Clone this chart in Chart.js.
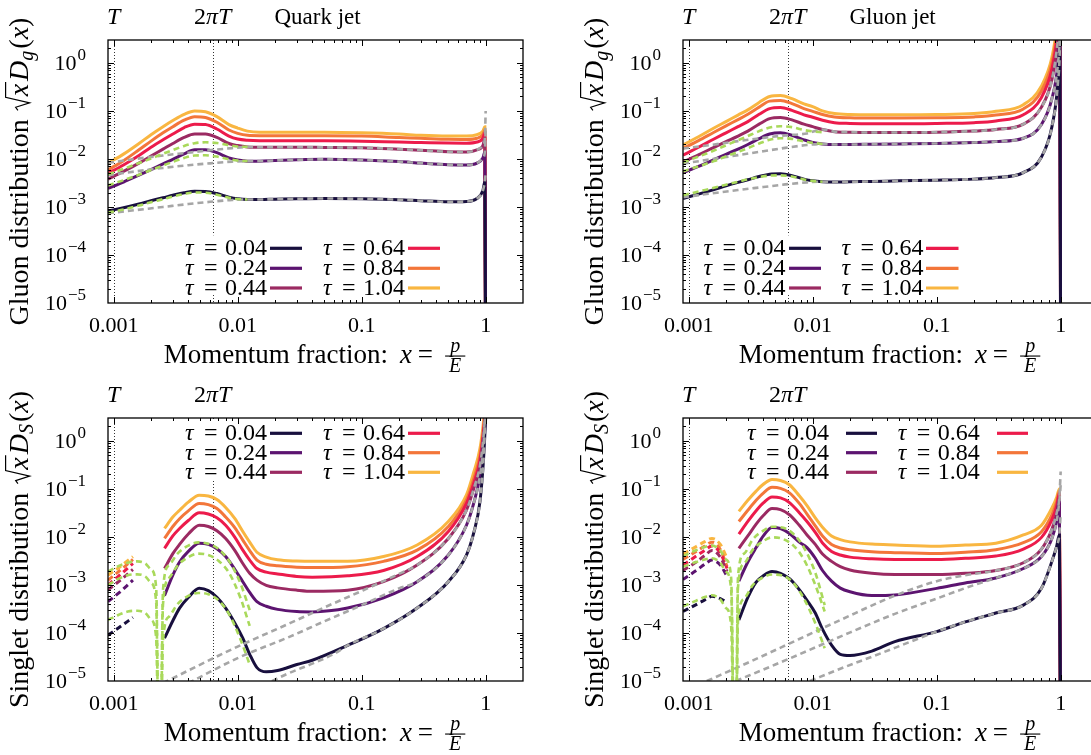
<!DOCTYPE html>
<html lang="en">
<head>
<meta charset="UTF-8">
<title>Gluon and singlet distributions</title>
<style>
    body {
        margin: 0;
        width: 1091px;
        height: 755px;
        overflow: hidden;
        background: #fff;
        position: relative;
    }
    canvas { position: absolute; }
</style>
<script src="https://cdn.jsdelivr.net/npm/chart.js"></script>
</head>
<body>

<canvas id="quarkGluon" width="545" height="375" style="left:0;top:0"></canvas>
<canvas id="gluonGluon" width="560" height="375" style="left:545px;top:0"></canvas>
<canvas id="quarkSinglet" width="545" height="380" style="left:0;top:375px"></canvas>
<canvas id="gluonSinglet" width="560" height="380" style="left:545px;top:375px"></canvas>

<script>
    // ---- data -------------------------------------------------------------
    const taus = ['0.04', '0.24', '0.44', '0.64', '0.84', '1.04'];
    const temperature = 0.001;

    const xTicks = [0.001, 0.01, 0.1, 1];
    const xTickLabels = ['0.001', '0.01', '0.1', '1'];
    const yTicks = [1e-5, 1e-4, 1e-3, 1e-2, 1e-1, 1];
    const yTickExponents = ['\u22125', '\u22124', '\u22123', '\u22122', '\u22121', '0'];

    // momentum fractions of the solid curves, upper panels
    const xTop = [0.0009, 0.0012, 0.0016, 0.002, 0.0025, 0.003, 0.0037, 0.0045, 0.0055, 0.0068, 0.0085, 0.01, 0.012,
        0.015, 0.02, 0.03, 0.05, 0.1, 0.2, 0.3, 0.5, 0.7, 0.85, 0.95, 0.985, 1.0];

    // quark jet, gluon distribution (one row per tau)
    const quarkGluon = [
        [8.3e-4, 9.6e-4, 1.15e-3, 1.35e-3, 1.55e-3, 1.75e-3, 1.98e-3, 2.12e-3, 2.1e-3, 1.9e-3, 1.6e-3, 1.48e-3, 1.43e-3, 1.43e-3, 1.45e-3, 1.48e-3, 1.5e-3, 1.48e-3, 1.42e-3, 1.35e-3, 1.28e-3, 1.3e-3, 1.5e-3, 2.2e-3, 3.4e-3, 1e-7],
        [2.45e-3, 3.3e-3, 4.6e-3, 6.0e-3, 7.9e-3, 9.8e-3, 0.0127, 0.0155, 0.0155, 0.0135, 0.0105, 9.5e-3, 9.0e-3, 9.0e-3, 9.3e-3, 9.6e-3, 9.8e-3, 9.5e-3, 8.8e-3, 8.2e-3, 7.6e-3, 7.5e-3, 8.2e-3, 0.0105, 0.014, 1e-7],
        [3.8e-3, 5.5e-3, 8.2e-3, 0.0115, 0.016, 0.021, 0.028, 0.033, 0.033, 0.028, 0.021, 0.019, 0.0178, 0.0175, 0.0175, 0.0175, 0.0174, 0.0172, 0.016, 0.0152, 0.0141, 0.014, 0.0155, 0.019, 0.027, 1e-7],
        [5.0e-3, 7.5e-3, 0.0118, 0.0175, 0.025, 0.033, 0.045, 0.053, 0.052, 0.042, 0.030, 0.026, 0.0245, 0.024, 0.024, 0.024, 0.024, 0.0235, 0.0225, 0.022, 0.0214, 0.0213, 0.0225, 0.027, 0.035, 1e-7],
        [5.9e-3, 9.2e-3, 0.0155, 0.0235, 0.035, 0.047, 0.064, 0.076, 0.073, 0.058, 0.040, 0.034, 0.031, 0.0305, 0.0305, 0.0305, 0.0305, 0.030, 0.028, 0.027, 0.0257, 0.0255, 0.027, 0.032, 0.040, 1e-7],
        [8.1e-3, 0.0126, 0.021, 0.032, 0.047, 0.063, 0.085, 0.100, 0.096, 0.076, 0.052, 0.044, 0.038, 0.036, 0.036, 0.036, 0.036, 0.035, 0.033, 0.031, 0.030, 0.030, 0.032, 0.038, 0.047, 1e-7]
    ];
    const quarkGluonGray = [
        [[0.0009, 7.4e-4], [0.0015, 8.6e-4], [0.0025, 1.0e-3], [0.004, 1.15e-3], [0.006, 1.28e-3], [0.009, 1.4e-3]],
        [[0.0009, 4.6e-3], [0.0015, 5.5e-3], [0.0025, 6.5e-3], [0.004, 7.4e-3], [0.006, 8.1e-3], [0.009, 8.8e-3]],
        [[0.0009, 8.3e-3], [0.0015, 0.0100], [0.0025, 0.0118], [0.004, 0.0135], [0.006, 0.0152], [0.009, 0.0168]]
    ];
    const quarkGluonGrayTips = [5e-3, 0.04, 0.1];
    const quarkGluonGreen = [
        [7.6e-4, 8.9e-4, 1.07e-3, 1.26e-3, 1.45e-3, 1.65e-3, 1.86e-3, 2.0e-3, 1.98e-3, 1.8e-3, 1.56e-3, 1.46e-3, 1.43e-3],
        [2.8e-3, 3.6e-3, 4.7e-3, 5.9e-3, 7.3e-3, 8.7e-3, 0.0105, 0.0118, 0.0119, 0.0112, 9.9e-3, 9.3e-3, 9.0e-3],
        [4.8e-3, 6.2e-3, 8.2e-3, 0.0102, 0.0128, 0.0153, 0.0187, 0.0213, 0.0222, 0.0214, 0.0193, 0.0182, 0.0178]
    ];

    // gluon jet, gluon distribution
    const gluonGluon = [
        [1.5e-3, 1.85e-3, 2.3e-3, 2.75e-3, 3.25e-3, 3.7e-3, 4.3e-3, 4.8e-3, 4.9e-3, 4.5e-3, 3.8e-3, 3.5e-3, 3.35e-3, 3.3e-3, 3.35e-3, 3.4e-3, 3.5e-3, 3.6e-3, 3.8e-3, 4.1e-3, 5.2e-3, 0.011, 0.047, 0.38, 2.2, 1e-7],
        [5.2e-3, 7.0e-3, 9.7e-3, 0.0125, 0.016, 0.020, 0.0265, 0.033, 0.035, 0.031, 0.025, 0.022, 0.0205, 0.020, 0.020, 0.0202, 0.0205, 0.021, 0.022, 0.023, 0.027, 0.052, 0.18, 0.95, 4, 1e-7],
        [8.7e-3, 0.0122, 0.0175, 0.023, 0.030, 0.038, 0.053, 0.069, 0.073, 0.065, 0.053, 0.047, 0.041, 0.037, 0.036, 0.0355, 0.0355, 0.036, 0.038, 0.041, 0.053, 0.12, 0.45, 3, 9, 1e-7],
        [0.012, 0.0175, 0.026, 0.035, 0.047, 0.060, 0.085, 0.112, 0.118, 0.103, 0.083, 0.074, 0.064, 0.057, 0.055, 0.054, 0.054, 0.055, 0.057, 0.062, 0.083, 0.19, 0.75, 4.5, 12, 1e-7],
        [0.0165, 0.024, 0.036, 0.049, 0.066, 0.085, 0.120, 0.160, 0.165, 0.142, 0.112, 0.098, 0.084, 0.075, 0.072, 0.071, 0.071, 0.072, 0.075, 0.082, 0.11, 0.26, 1.0, 6, 15, 1e-7],
        [0.0195, 0.029, 0.044, 0.060, 0.082, 0.105, 0.150, 0.20, 0.21, 0.18, 0.14, 0.123, 0.10, 0.088, 0.084, 0.083, 0.083, 0.084, 0.088, 0.098, 0.135, 0.33, 1.3, 8, 20, 1e-7]
    ];
    const gluonGluonGray = [
        [[0.0009, 1.6e-3], [0.0015, 1.9e-3], [0.0025, 2.25e-3], [0.004, 2.6e-3], [0.006, 2.95e-3], [0.009, 3.25e-3]],
        [[0.0009, 8.0e-3], [0.0015, 9.8e-3], [0.0025, 0.012], [0.004, 0.0145], [0.006, 0.017], [0.009, 0.0195]],
        [[0.0009, 0.0165], [0.0015, 0.0195], [0.0025, 0.0235], [0.004, 0.0275], [0.006, 0.031], [0.009, 0.034]]
    ];
    const gluonGluonGrayTips = [30, 30, 30];
    const gluonGluonGreen = [
        [1.75e-3, 2.1e-3, 2.5e-3, 2.9e-3, 3.35e-3, 3.75e-3, 4.2e-3, 4.5e-3, 4.55e-3, 4.3e-3, 3.75e-3, 3.5e-3, 3.35e-3],
        [5.5e-3, 7.0e-3, 9.0e-3, 0.0113, 0.014, 0.0168, 0.021, 0.025, 0.027, 0.0262, 0.0232, 0.0217, 0.0205],
        [8.5e-3, 0.0112, 0.015, 0.0192, 0.0245, 0.030, 0.038, 0.045, 0.048, 0.046, 0.040, 0.0375, 0.036]
    ];

    // quark jet, singlet distribution
    const xQuarkSinglet = [0.00257, 0.003, 0.0034, 0.004, 0.0049, 0.0058, 0.0068, 0.008, 0.0095, 0.011, 0.0125, 0.0143,
        0.017, 0.021, 0.03, 0.04, 0.077, 0.15, 0.28, 0.5, 0.7, 0.8, 0.9, 0.96, 1.0];
    const quarkSinglet = [
        [7.8e-5, 1.8e-4, 3.3e-4, 5.5e-4, 8.5e-4, 7.6e-4, 5.5e-4, 3.3e-4, 1.6e-4, 7.8e-5, 3.6e-5, 1.9e-5, 1.55e-5, 1.65e-5, 2.2e-5, 2.7e-5, 5.5e-5, 1.23e-4, 3.3e-4, 1.17e-3, 4.2e-3, 0.012, 0.055, 0.4, 3],
        [6e-4, 1.6e-3, 3.0e-3, 5.0e-3, 7.4e-3, 7.0e-3, 5.7e-3, 3.9e-3, 2.1e-3, 1.17e-3, 7.0e-4, 4.5e-4, 3.6e-4, 3.1e-4, 2.8e-4, 2.75e-4, 3.3e-4, 5.4e-4, 1.17e-3, 4.2e-3, 0.0175, 0.05, 0.19, 0.8, 3.5],
        [2.2e-3, 4.5e-3, 7.0e-3, 0.0115, 0.0175, 0.0165, 0.0135, 9.3e-3, 5.2e-3, 2.8e-3, 1.75e-3, 1.26e-3, 9.8e-4, 8.7e-4, 7.8e-4, 7.4e-4, 7.8e-4, 1.17e-3, 2.6e-3, 9.3e-3, 0.036, 0.1, 0.31, 1.2, 4],
        [5.8e-3, 0.0105, 0.015, 0.022, 0.032, 0.030, 0.025, 0.0175, 9.8e-3, 5.3e-3, 3.3e-3, 2.2e-3, 1.85e-3, 1.7e-3, 1.5e-3, 1.45e-3, 1.55e-3, 2.0e-3, 3.9e-3, 0.013, 0.050, 0.13, 0.40, 1.5, 5],
        [9.3e-3, 0.0165, 0.024, 0.035, 0.050, 0.047, 0.039, 0.026, 0.0155, 8.6e-3, 5.2e-3, 3.3e-3, 2.7e-3, 2.5e-3, 2.35e-3, 2.3e-3, 2.4e-3, 3.1e-3, 5.3e-3, 0.0165, 0.059, 0.16, 0.5, 1.8, 6],
        [0.015, 0.026, 0.036, 0.053, 0.074, 0.071, 0.060, 0.041, 0.024, 0.013, 7.8e-3, 4.8e-3, 3.8e-3, 3.35e-3, 3.15e-3, 3.1e-3, 3.1e-3, 3.9e-3, 6.8e-3, 0.021, 0.075, 0.22, 0.7, 2.5, 8]
    ];
    const xQuarkSingletLow = [0.0009, 0.00115, 0.00143];
    const quarkSingletLow = [
        [9e-5, 1.4e-4, 2.1e-4],
        [4.5e-4, 7.5e-4, 1.26e-3],
        [7.9e-4, 1.3e-3, 2.1e-3],
        [1.0e-3, 1.7e-3, 2.8e-3],
        [1.26e-3, 2.1e-3, 3.4e-3],
        [1.6e-3, 2.5e-3, 3.9e-3]
    ];
    const quarkSingletGray = [
        [[0.016, 8e-6], [0.025, 1.4e-5], [0.04, 2.3e-5], [0.06, 3.7e-5]],
        [[0.004, 9e-6], [0.01, 3.0e-5], [0.0264, 8.4e-5], [0.05, 1.75e-4], [0.1, 3.8e-4], [0.2, 8.5e-4]],
        [[0.0025, 9e-6], [0.005, 2.2e-5], [0.01, 5.2e-5], [0.0264, 1.6e-4], [0.05, 3.4e-4], [0.1, 7.5e-4], [0.2, 1.7e-3]]
    ];
    const quarkSingletGrayJoin = [16, 18, 18];
    const quarkSingletGrayTips = [5, 5, 5];
    const xQuarkSingletGreen = [0.0009, 0.0011, 0.0013, 0.00155, 0.0018, 0.002, 0.0022, 0.00235, 0.0025, 0.0028, 0.0033,
        0.004, 0.0048, 0.0058, 0.007, 0.0085, 0.0105, 0.0125];
    const quarkSingletGreen = [
        [1.86e-4, 2.4e-4, 2.8e-4, 2.9e-4, 2.6e-4, 1.9e-4, 8e-5, 1e-8, 7e-5, 2.2e-4, 4.1e-4, 5.9e-4, 6.8e-4, 6.4e-4, 4.8e-4, 2.5e-4, 7.5e-5, 2.2e-5],
        [1.0e-3, 1.35e-3, 1.6e-3, 1.66e-3, 1.5e-3, 1.1e-3, 4.5e-4, 1e-8, 4e-4, 1.4e-3, 2.6e-3, 3.8e-3, 4.5e-3, 4.2e-3, 3.2e-3, 1.8e-3, 5.5e-4, 1.4e-4],
        [1.9e-3, 2.5e-3, 2.9e-3, 3.1e-3, 2.8e-3, 2.1e-3, 9e-4, 1e-8, 8e-4, 2.6e-3, 4.6e-3, 6.6e-3, 7.7e-3, 7.2e-3, 5.6e-3, 3.2e-3, 1.1e-3, 3e-4]
    ];

    // gluon jet, singlet distribution
    const xGluonSinglet = [0.00254, 0.003, 0.0035, 0.004, 0.0047, 0.0055, 0.0065, 0.0078, 0.009, 0.0105, 0.012, 0.0142,
        0.0167, 0.02, 0.03, 0.046, 0.1, 0.17, 0.3, 0.5, 0.7, 0.85, 0.93, 0.975, 1.0];
    const gluonSinglet = [
        [1.86e-4, 5.5e-4, 1.15e-3, 1.55e-3, 1.9e-3, 1.75e-3, 1.35e-3, 8.0e-4, 4.8e-4, 2.6e-4, 1.2e-4, 5.6e-5, 3.6e-5, 3.4e-5, 4.2e-5, 6.6e-5, 1.07e-4, 1.7e-4, 2.6e-4, 3.8e-4, 8.5e-4, 3.1e-3, 6.5e-3, 0.011, 1e-7],
        [1.2e-3, 3.0e-3, 6.0e-3, 0.0105, 0.0158, 0.015, 0.0118, 7.8e-3, 6.0e-3, 3.6e-3, 2.0e-3, 1.2e-3, 8.6e-4, 7.2e-4, 6.0e-4, 6.2e-4, 8.5e-4, 1.1e-3, 1.4e-3, 2.2e-3, 3.9e-3, 9.3e-3, 0.022, 0.055, 1e-7],
        [5.8e-3, 0.0105, 0.0185, 0.028, 0.039, 0.037, 0.029, 0.0175, 0.011, 7.0e-3, 4.4e-3, 3.1e-3, 2.4e-3, 2.05e-3, 1.75e-3, 1.65e-3, 1.65e-3, 1.75e-3, 2.0e-3, 2.9e-3, 5.6e-3, 0.0145, 0.032, 0.065, 1e-7],
        [0.0114, 0.021, 0.035, 0.051, 0.068, 0.065, 0.052, 0.032, 0.021, 0.0125, 7.5e-3, 5.0e-3, 4.2e-3, 3.8e-3, 3.5e-3, 3.4e-3, 3.4e-3, 3.6e-3, 4.0e-3, 5.6e-3, 9.8e-3, 0.023, 0.045, 0.080, 1e-7],
        [0.021, 0.036, 0.058, 0.082, 0.108, 0.103, 0.083, 0.050, 0.030, 0.017, 0.0105, 7.0e-3, 5.9e-3, 5.4e-3, 4.9e-3, 4.7e-3, 4.5e-3, 4.8e-3, 5.4e-3, 7.6e-3, 0.0128, 0.029, 0.055, 0.090, 1e-7],
        [0.034, 0.058, 0.090, 0.125, 0.158, 0.150, 0.122, 0.072, 0.045, 0.025, 0.016, 0.0105, 8.8e-3, 7.9e-3, 7.1e-3, 6.8e-3, 6.4e-3, 6.8e-3, 7.4e-3, 0.011, 0.0175, 0.040, 0.068, 0.10, 1e-7]
    ];
    const xGluonSingletLow = [0.0009, 0.00115, 0.00135, 0.00154, 0.0018, 0.00204];
    const gluonSingletLow = [
        [2.8e-4, 3.9e-4, 4.9e-4, 5.8e-4, 5.2e-4, 4.3e-4],
        [1.3e-3, 2.0e-3, 2.7e-3, 3.3e-3, 2.6e-3, 1.5e-3],
        [2.0e-3, 3.0e-3, 4.1e-3, 5.2e-3, 3.8e-3, 1.9e-3],
        [2.6e-3, 4.0e-3, 5.3e-3, 6.5e-3, 4.6e-3, 2.2e-3],
        [3.4e-3, 5.0e-3, 6.5e-3, 7.8e-3, 5.5e-3, 2.4e-3],
        [4.4e-3, 6.3e-3, 8.0e-3, 9.3e-3, 7.0e-3, 3.6e-3]
    ];
    const gluonSingletGray = [
        [[0.0095, 1e-5], [0.0167, 1.8e-5], [0.03, 3.2e-5], [0.046, 4.9e-5]],
        [[0.0024, 1e-5], [0.005, 2.2e-5], [0.0105, 5.0e-5], [0.0167, 8.4e-5], [0.046, 2.5e-4], [0.1, 5.2e-4], [0.17, 8.6e-4]],
        [[0.0014, 1e-5], [0.003, 2.4e-5], [0.0078, 7.5e-5], [0.0167, 1.86e-4], [0.046, 6.0e-4], [0.1, 1.2e-3], [0.17, 1.6e-3]]
    ];
    const gluonSingletGrayJoin = [16, 18, 18];
    const gluonSingletGrayTips = [0.03, 0.12, 0.23];
    const xGluonSingletGreen = [0.0009, 0.00115, 0.00135, 0.00154, 0.0018, 0.002, 0.0022, 0.00237, 0.0025, 0.0028, 0.0033,
        0.004, 0.0047, 0.0058, 0.007, 0.0085, 0.0105, 0.0125];
    const gluonSingletGreen = [
        [3.6e-4, 4.7e-4, 5.6e-4, 6.1e-4, 5.0e-4, 3.3e-4, 1.4e-4, 1e-8, 1.8e-4, 5.2e-4, 1.0e-3, 1.45e-3, 1.65e-3, 1.55e-3, 1.1e-3, 5.2e-4, 1.6e-4, 4.8e-5],
        [2.4e-3, 3.0e-3, 3.4e-3, 3.6e-3, 2.9e-3, 1.9e-3, 8e-4, 1e-8, 9e-4, 2.8e-3, 5.5e-3, 8.2e-3, 9.8e-3, 9.0e-3, 6.6e-3, 3.4e-3, 1.0e-3, 2.8e-4],
        [4.0e-3, 5.3e-3, 6.2e-3, 6.6e-3, 5.2e-3, 3.4e-3, 1.4e-3, 1e-8, 1.5e-3, 4.5e-3, 9.0e-3, 0.0135, 0.0163, 0.0155, 0.0115, 6.0e-3, 1.8e-3, 3.8e-4]
    ];

    // ---- styling ----------------------------------------------------------
    const tauColors = ['#180f3e', '#5c1470', '#9b2a62', '#ec1b4b', '#f3763a', '#f9b641'];
    const grayColor = '#a6a6a6';
    const greenColor = '#a9d95b';
    const SERIF = '"Liberation Serif", "Times New Roman", serif';

    function font(size, italic) {
        return (italic ? 'italic ' : '') + size + 'px ' + SERIF;
    }

    function points(xs, ys) {
        return xs.map((x, i) => ({ x: x, y: ys[i] }));
    }

    // dashed approximation: its own small-x part, then along the full curve, then its end value at x = 1
    function grayPoints(head, xs, solid, from, to, tip) {
        const pts = head.map(p => ({ x: p[0], y: p[1] }));
        for (let i = from; i <= to; i++) pts.push({ x: xs[i], y: solid[i] });
        pts.push({ x: 1, y: tip });
        return pts;
    }

    // ---- text helpers -----------------------------------------------------
    function partWidth(ctx, p) {
        if (p.gap) return p.gap;
        ctx.font = font(p.s, p.i);
        if (p.sqrt) return ctx.measureText(p.sqrt).width + 17;
        if (p.frac) return Math.max(...p.frac.map(t => ctx.measureText(t).width)) + 12;
        return ctx.measureText(p.t).width;
    }

    function drawRun(ctx, parts, x, y, align) {
        const widths = parts.map(p => partWidth(ctx, p));
        const total = widths.reduce((s, w) => s + w, 0);
        let cx = align === 'center' ? x - total / 2 : (align === 'right' ? x - total : x);
        ctx.textAlign = 'left';
        ctx.textBaseline = 'alphabetic';
        parts.forEach((p, i) => {
            const w = widths[i];
            if (!p.gap) {
                ctx.font = font(p.s, p.i);
                if (p.sqrt) {
                    const s = p.s;
                    ctx.beginPath();
                    ctx.moveTo(cx + 1, y - 0.36 * s);
                    ctx.lineTo(cx + 4, y - 0.44 * s);
                    ctx.lineTo(cx + 8.5, y + 0.06 * s);
                    ctx.lineTo(cx + 14, y - 0.8 * s);
                    ctx.lineTo(cx + w, y - 0.8 * s);
                    ctx.lineWidth = 1.2;
                    ctx.stroke();
                    ctx.fillText(p.sqrt, cx + 15, y);
                } else if (p.frac) {
                    ctx.textAlign = 'center';
                    ctx.fillText(p.frac[0], cx + w / 2, y - 11);
                    ctx.fillText(p.frac[1], cx + w / 2, y + 9);
                    ctx.textAlign = 'left';
                    ctx.fillRect(cx + 2, y - 7.5, w - 4, 1.1);
                } else {
                    ctx.fillText(p.t, cx, y + (p.dy || 0));
                }
            }
            cx += w;
        });
    }

    // frame, ticks, labels and key drawn the gnuplot way
    function makeDecor(cfg) {
        return {
            id: 'decor',
            beforeDatasetsDraw(chart) {
                const ctx = chart.ctx, a = chart.chartArea, xs = chart.scales.x;
                ctx.save();
                ctx.strokeStyle = '#333';
                ctx.lineWidth = 1;
                ctx.setLineDash([1, 2]);
                [temperature, 2 * Math.PI * temperature].forEach(v => {
                    const px = Math.round(xs.getPixelForValue(v)) + 0.5;
                    ctx.beginPath();
                    ctx.moveTo(px, a.top);
                    ctx.lineTo(px, a.bottom);
                    ctx.stroke();
                });
                ctx.setLineDash([]);
                const k = cfg.key;
                ctx.fillStyle = '#fff';
                ctx.fillRect(a.left + k.textX[0] - 3, a.top + k.rowY[0] - 13,
                    k.lineX[1][1] - k.textX[0] + 6, k.rowY[2] - k.rowY[0] + 20);
                ctx.restore();
            },
            afterDatasetsDraw(chart) {
                const ctx = chart.ctx, a = chart.chartArea;
                const xs = chart.scales.x, ys = chart.scales.y;
                ctx.save();
                ctx.fillStyle = '#000';
                ctx.strokeStyle = '#000';

                // key
                const k = cfg.key;
                taus.forEach((tau, i) => {
                    const col = Math.floor(i / 3), row = i % 3;
                    const tx = a.left + k.textX[col], ly = a.top + k.rowY[row];
                    ctx.fillStyle = '#000';
                    drawRun(ctx, [{ t: '\u03c4', s: 24, i: true }], tx, ly + 7, 'left');
                    drawRun(ctx, [{ t: '=', s: 24 }], tx + 19, ly + 7, 'left');
                    drawRun(ctx, [{ t: tau, s: 24 }], tx + 40, ly + 7, 'left');
                    ctx.strokeStyle = tauColors[i];
                    ctx.lineWidth = 3.2;
                    ctx.beginPath();
                    ctx.moveTo(a.left + k.lineX[col][0], ly);
                    ctx.lineTo(a.left + k.lineX[col][1], ly);
                    ctx.stroke();
                });

                // frame
                ctx.strokeStyle = '#000';
                ctx.lineWidth = 1.3;
                ctx.strokeRect(a.left, a.top, a.right - a.left, a.bottom - a.top);

                // inward ticks on all four sides
                ctx.lineWidth = 1;
                ctx.beginPath();
                for (let n = -4; n <= 0; n++) {
                    for (let m = 1; m <= 9; m++) {
                        const v = m * Math.pow(10, n);
                        if (v <= xs.min * 1.001 || v >= xs.max * 0.999) continue;
                        const px = Math.round(xs.getPixelForValue(v)) + 0.5, len = m === 1 ? 6 : 3;
                        ctx.moveTo(px, a.bottom); ctx.lineTo(px, a.bottom - len);
                        ctx.moveTo(px, a.top); ctx.lineTo(px, a.top + len);
                    }
                }
                for (let n = -5; n <= 0; n++) {
                    for (let m = 1; m <= 9; m++) {
                        const v = m * Math.pow(10, n);
                        if (v <= ys.min * 1.001 || v >= ys.max * 0.999) continue;
                        const py = Math.round(ys.getPixelForValue(v)) + 0.5, len = m === 1 ? 6 : 3;
                        ctx.moveTo(a.left, py); ctx.lineTo(a.left + len, py);
                        ctx.moveTo(a.right, py); ctx.lineTo(a.right - len, py);
                    }
                }
                ctx.stroke();

                // tick labels
                ctx.fillStyle = '#000';
                xTicks.forEach((v, i) => {
                    drawRun(ctx, [{ t: xTickLabels[i], s: 22 }], xs.getPixelForValue(v), a.bottom + 28.5, 'center');
                });
                yTicks.forEach((v, i) => {
                    const py = ys.getPixelForValue(v);
                    drawRun(ctx, [{ t: '10', s: 22 }, { gap: 1 }, { t: yTickExponents[i], s: 17, dy: -10 }],
                        a.left - 22, py + 7, 'right');
                });

                // axis titles
                drawRun(ctx, [{ t: 'Momentum fraction:', s: 27 }, { gap: 12 }, { t: 'x', s: 27, i: true }, { gap: 6 },
                    { t: '=', s: 27 }, { gap: 10 }, { frac: ['p', 'E'], s: 20, i: true }],
                    (a.left + a.right) / 2, a.bottom + 60, 'center');

                ctx.save();
                ctx.translate(a.left - 80, (a.top + a.bottom) / 2);
                ctx.rotate(-Math.PI / 2);
                drawRun(ctx, [{ t: cfg.yName + ' distribution', s: 28 }, { gap: 8 }, { sqrt: 'x', s: 28, i: true },
                    { gap: 1 }, { t: 'D', s: 28, i: true }, { t: cfg.ySub, s: 20, i: true, dy: 5 }, { gap: 2 },
                    { t: '(', s: 28 }, { t: 'x', s: 28, i: true }, { t: ')', s: 28 }], 0, 0, 'center');
                ctx.restore();

                // scale markers above the frame
                const ty = a.top - 16;
                drawRun(ctx, [{ t: 'T', s: 24, i: true }], xs.getPixelForValue(temperature), ty, 'center');
                drawRun(ctx, [{ t: '2', s: 24 }, { t: '\u03c0', s: 24, i: true }, { t: 'T', s: 24, i: true }],
                    xs.getPixelForValue(2 * Math.PI * temperature), ty, 'center');
                if (cfg.jet) drawRun(ctx, [{ t: cfg.jet, s: 23 }], a.left + 166.5, ty, 'left');

                ctx.restore();
            }
        };
    }

    // ---- panels -----------------------------------------------------------
    const topKeyRows = [208.3, 228.3, 248];
    const bottomKeyRows = [15.3, 34.7, 54.3];

    const panels = [
        {
            id: 'quarkGluon', pad: { left: 108, top: 40, right: 22, bottom: 72 },
            yName: 'Gluon', ySub: 'g', jet: 'Quark jet',
            key: { textX: [77, 215], lineX: [[162, 194], [300, 332]], rowY: topKeyRows },
            xs: xTop, solid: quarkGluon, low: null,
            gray: quarkGluonGray, grayJoin: [12, 12, 12], grayEnd: 24, grayTips: quarkGluonGrayTips,
            greenX: xTop.slice(0, 13), green: quarkGluonGreen
        },
        {
            id: 'gluonGluon', pad: { left: 138, top: 40, right: 7, bottom: 72 },
            yName: 'Gluon', ySub: 'g', jet: 'Gluon jet',
            key: { textX: [20.6, 158.5], lineX: [[106, 138], [243, 275.5]], rowY: topKeyRows },
            xs: xTop, solid: gluonGluon, low: null,
            gray: gluonGluonGray, grayJoin: [12, 12, 12], grayEnd: 24, grayTips: gluonGluonGrayTips,
            greenX: xTop.slice(0, 13), green: gluonGluonGreen
        },
        {
            id: 'quarkSinglet', pad: { left: 108, top: 43, right: 22, bottom: 74 },
            yName: 'Singlet', ySub: 'S', jet: null,
            key: { textX: [77, 215], lineX: [[162, 194], [300, 332]], rowY: bottomKeyRows },
            xs: xQuarkSinglet, solid: quarkSinglet, lowX: xQuarkSingletLow, low: quarkSingletLow,
            gray: quarkSingletGray, grayJoin: quarkSingletGrayJoin, grayEnd: 23, grayTips: quarkSingletGrayTips,
            greenX: xQuarkSingletGreen, green: quarkSingletGreen
        },
        {
            id: 'gluonSinglet', pad: { left: 138, top: 43, right: 7, bottom: 74 },
            yName: 'Singlet', ySub: 'S', jet: null,
            key: { textX: [63.9, 214.7], lineX: [[163, 194], [314, 345]], rowY: bottomKeyRows },
            xs: xGluonSinglet, solid: gluonSinglet, lowX: xGluonSingletLow, low: gluonSingletLow,
            gray: gluonSingletGray, grayJoin: gluonSingletGrayJoin, grayEnd: 23, grayTips: gluonSingletGrayTips,
            greenX: xGluonSingletGreen, green: gluonSingletGreen
        }
    ];

    panels.forEach(p => {
        const datasets = [];
        p.green.forEach(ys => datasets.push({
            data: points(p.greenX, ys), borderColor: greenColor, borderWidth: 2.6, borderDash: [6, 4], order: 1
        }));
        p.gray.forEach((head, j) => datasets.push({
            data: grayPoints(head, p.xs, p.solid[j], p.grayJoin[j], p.grayEnd, p.grayTips[j]),
            borderColor: grayColor, borderWidth: 2.6, borderDash: [6, 4], order: 2
        }));
        p.solid.forEach((ys, i) => datasets.push({
            data: points(p.xs, ys), borderColor: tauColors[i], borderWidth: 3, order: 3
        }));
        if (p.low) p.low.forEach((ys, i) => datasets.push({
            data: points(p.lowX, ys), borderColor: tauColors[i], borderWidth: 3, borderDash: [6, 4], order: 3
        }));

        new Chart(document.getElementById(p.id), {
            type: 'line',
            data: { datasets: datasets },
            options: {
                responsive: false,
                animation: false,
                events: [],
                layout: { padding: p.pad },
                plugins: { legend: { display: false }, tooltip: { enabled: false } },
                elements: {
                    point: { radius: 0 },
                    line: { cubicInterpolationMode: 'monotone', borderCapStyle: 'butt', fill: false }
                },
                scales: {
                    x: { type: 'logarithmic', min: 0.0009, max: 2, display: false },
                    y: { type: 'logarithmic', min: 1e-5, max: 3, display: false }
                }
            },
            plugins: [makeDecor(p)]
        });
    });
</script>

</body>
</html>
